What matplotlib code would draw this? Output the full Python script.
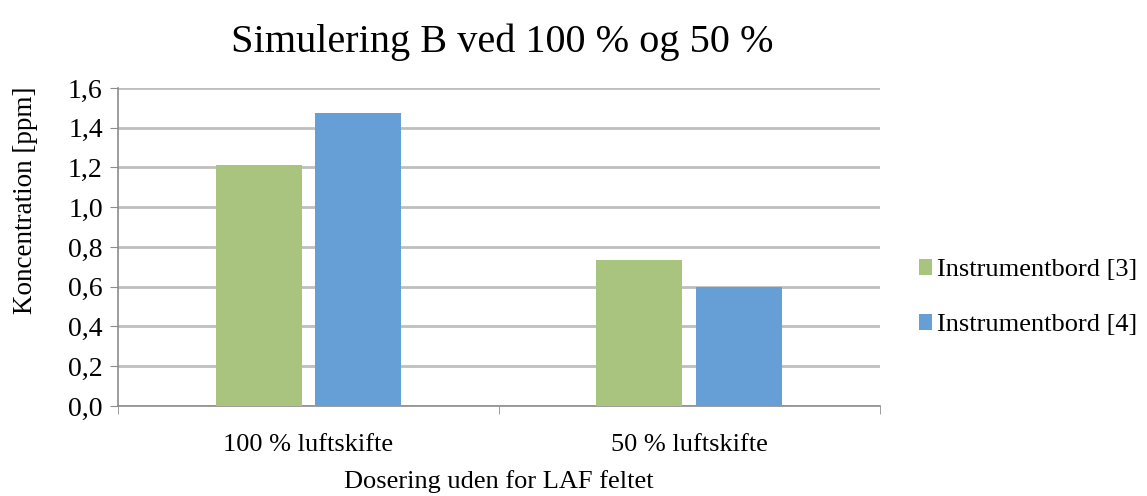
import numpy as np
import matplotlib as mpl
import matplotlib.pyplot as plt
from matplotlib.ticker import FuncFormatter

mpl.rcParams.update({"font.family": "Liberation Serif"})

categories = ["100 % luftskifte", "50 % luftskifte"]
series_names = ["Instrumentbord [3]", "Instrumentbord [4]"]
instrumentbord_3 = [1.21, 0.735]
instrumentbord_4 = [1.475, 0.60]
colors = ["#A9C47F", "#659FD6"]


def main():
    fig = plt.figure(figsize=(11.47, 4.96), dpi=100)
    ax = fig.add_axes([0.1029, 0.1815, 0.664, 0.6411])

    x = np.arange(len(categories))
    w = 0.226
    off = 0.131
    ax.bar(x - off, instrumentbord_3, w, color=colors[0], label=series_names[0], zorder=3)
    ax.bar(x + off, instrumentbord_4, w, color=colors[1], label=series_names[1], zorder=3)

    ax.set_xlim(-0.5, len(categories) - 0.5)
    ax.set_ylim(0, 1.6)
    ax.set_yticks(np.arange(0, 1.61, 0.2))
    ax.yaxis.set_major_formatter(FuncFormatter(lambda v, p: f"{v:.1f}".replace(".", ",")))
    ax.set_xticks(x)
    ax.set_xticklabels(categories)
    ax.set_xticks([-0.5, 0.5, 1.5], minor=True)

    ax.grid(axis="y", color="#BFBFBF", linewidth=2, zorder=0)
    for s in ["top", "right"]:
        ax.spines[s].set_visible(False)
    for s in ["left", "bottom"]:
        ax.spines[s].set_color("#8C8C8C")
        ax.spines[s].set_linewidth(1.2)
    ax.tick_params(axis="y", length=6, color="#8C8C8C", labelsize=20, pad=5)
    ax.tick_params(axis="x", which="major", length=0, labelsize=19, pad=20)
    ax.tick_params(axis="x", which="minor", length=6, color="#8C8C8C")

    ax.set_ylabel("Koncentration [ppm]", fontsize=19.5)
    ax.yaxis.set_label_coords(-0.105, 0.648)
    ax.set_xlabel("Dosering uden for LAF feltet", fontsize=19, labelpad=10)
    fig.text(0.4376, 0.915, "Simulering B ved 100 % og 50 %", fontsize=29,
             ha="center", va="center")

    ax.legend(loc="center left", bbox_to_anchor=(1.02, 0.34), frameon=False,
              fontsize=19, handlelength=0.5, handleheight=0.5, handletextpad=0.2,
              labelspacing=1.25)

    plt.savefig("out.png")


if __name__ == "__main__":
    main()
